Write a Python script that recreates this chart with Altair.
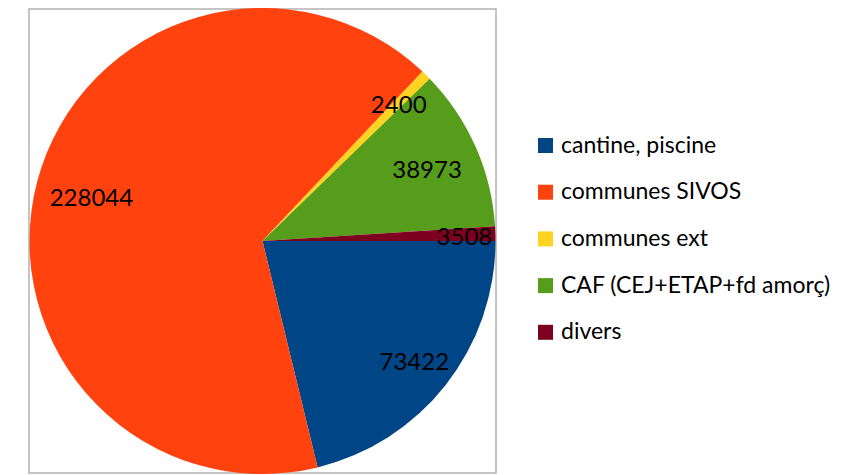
import math
import altair as alt
import pandas as pd

categories = ["cantine, piscine", "communes SIVOS", "communes ext",
              "CAF (CEJ+ETAP+fd amorç)", "divers"]
values = [73422, 228044, 2400, 38973, 3508]
colors = ["#004586", "#FF420E", "#FFD320", "#579D1C", "#7E0021"]

# label placement radius (style, like the spreadsheet's "best fit")
label_radius = {"cantine, piscine": 193, "communes SIVOS": 177,
                "communes ext": 194, "CAF (CEJ+ETAP+fd amorç)": 180,
                "divers": 202}

W, H = 469, 466

df = pd.DataFrame({"cat": categories, "value": values,
                   "idx": list(range(len(categories)))})

theta = alt.Theta("value:Q", stack=True,
                  scale=alt.Scale(range=[math.pi / 2, math.pi / 2 + 2 * math.pi]))
order = alt.Order("idx:Q", sort="ascending")

base = alt.Chart(df)

frame = alt.Chart(pd.DataFrame({"k": [0]})).mark_rect(
    fill="white", stroke="#b3b3b3", strokeWidth=1.5
).encode(x=alt.value(1), x2=alt.value(W - 1), y=alt.value(1), y2=alt.value(H - 1))

arcs = base.mark_arc(outerRadius=233, stroke=None).encode(
    theta=theta,
    order=order,
    color=alt.Color(
        "cat:N",
        sort=categories,
        scale=alt.Scale(domain=categories, range=colors),
        legend=alt.Legend(
            title=None, orient="none", legendX=506, legendY=126,
            symbolType="square", symbolSize=225, symbolStrokeWidth=0,
            labelFont="Lato", labelFontSize=23, labelColor="#000000",
            labelLimit=400, rowPadding=22.7, symbolOffset=0, labelOffset=4,
            padding=0,
        ),
    ),
)

layers = [frame, arcs]
for cat, r in label_radius.items():
    layers.append(
        base.mark_text(radius=r, font="Lato", fontSize=24, color="#000000", dy=3)
        .encode(theta=theta, order=order,
                text=alt.condition(alt.datum.cat == cat,
                                   alt.Text("value:Q", format="d"),
                                   alt.value("")))
    )

chart = alt.layer(*layers).properties(
    width=W, height=H,
    padding={"left": 20, "top": 0, "right": 0, "bottom": 0},
).configure_view(stroke=None)

chart.save("out.html", embed_options={"renderer": "svg", "actions": False})
